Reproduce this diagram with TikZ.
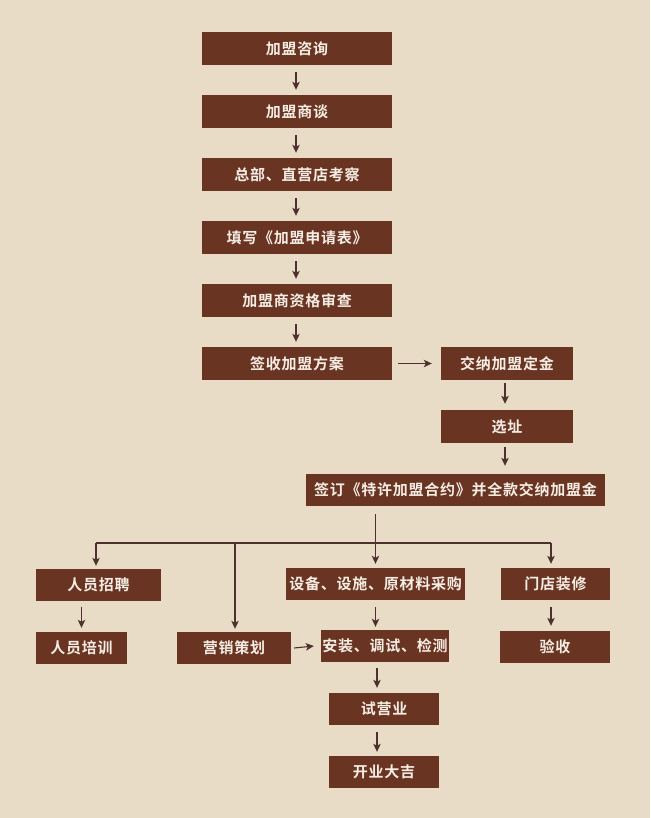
\documentclass[tikz,border=0pt]{standalone}
\usepackage{fontspec}
\setmainfont{Noto Sans CJK SC}[LetterSpace=5, BoldFont={Noto Sans CJK SC Bold}]
\usetikzlibrary{arrows.meta}
\definecolor{bg}{RGB}{233,220,199}
\definecolor{boxc}{RGB}{106,52,35}
\definecolor{txt}{RGB}{246,238,228}
\definecolor{arr}{RGB}{78,48,46}
\tikzset{
  stepbox/.style={fill=boxc, text=txt, inner sep=0pt, minimum height=33, font=\fontsize{15}{17}\selectfont\bfseries},
  conn/.style={draw=arr, line width=1.1pt, -{Stealth[length=8pt,width=7.5pt,inset=2pt]}},
  plain/.style={draw=arr, line width=1.4pt}
}
\begin{document}
\begin{tikzpicture}[x=1pt,y=-1pt]
\fill[bg] (0,0) rectangle (650,818);
\useasboundingbox (0,0) rectangle (650,818);
% main chain
\node[stepbox, minimum width=190] (a) at (297,48.5) {加盟咨询};
\node[stepbox, minimum width=190] (b) at (297,111.5) {加盟商谈};
\node[stepbox, minimum width=190] (c) at (297,174.5) {总部、直营店考察};
\node[stepbox, minimum width=190] (d) at (297,237.5) {填写《加盟申请表》};
\node[stepbox, minimum width=190] (e) at (297,300.5) {加盟商资格审查};
\node[stepbox, minimum width=190] (f) at (297,363.5) {签收加盟方案};
\node[stepbox, minimum width=132] (g) at (507,363.5) {交纳加盟定金};
\node[stepbox, minimum width=132] (h) at (507,426.5) {选址};
\node[stepbox, minimum width=299, minimum height=32] (s) at (455.5,490) {签订《特许加盟合约》并全款交纳加盟金};
% branches
\node[stepbox, minimum width=125, minimum height=32] (r1) at (98.5,585) {人员招聘};
\node[stepbox, minimum width=91, minimum height=32] (r2) at (81.5,648) {人员培训};
\node[stepbox, minimum width=114, minimum height=32] (m) at (234,648) {营销策划};
\node[stepbox, minimum width=179, minimum height=32] (p1) at (375.5,584) {设备、设施、原材料采购};
\node[stepbox, minimum width=128, minimum height=32] (p2) at (385,646) {安装、调试、检测};
\node[stepbox, minimum width=109, minimum height=32] (q1) at (555.5,584) {门店装修};
\node[stepbox, minimum width=110, minimum height=32] (q2) at (555,647) {验收};
\node[stepbox, minimum width=110, minimum height=32] (t) at (384,709) {试营业};
\node[stepbox, minimum width=110, minimum height=32] (o) at (384,772) {开业大吉};
% connectors main chain
\foreach \u/\v in {a/b,b/c,c/d,d/e,e/f}{
  \draw[conn] ([xshift=-1,yshift=-7]\u.south) -- ([xshift=-1,yshift=5]\v.north);
}
\draw[conn] ([xshift=6]f.east) -- ([xshift=-9]g.west);
\draw[conn] ([xshift=-2,yshift=-3]g.south) -- ([xshift=-2,yshift=6]h.north);
\coordinate (hx) at ([xshift=-2]h.south);
\draw[conn] ([yshift=-4]hx) -- ([yshift=8]hx |- s.north);
% branch bar
\coordinate (bl) at (96,543);
\coordinate (bm) at (235,543);
\coordinate (br) at (551,543);
\draw[plain] (bl) -- (br);
\draw[conn] ([yshift=-8]s.south -| p1.north) -- ([yshift=4]p1.north);
\draw[conn] (bl) -- ([yshift=3]bl |- r1.north);
\draw[conn] (bm) -- ([yshift=3]bm |- m.north);
\draw[conn] (br) -- ([yshift=4]br |- q1.north);
% lower connectors
\coordinate (rx) at (r2.north);
\draw[conn] ([yshift=-6]rx |- r1.south) -- ([yshift=4]r2.north);
\draw[conn] ([yshift=-7]p1.south) -- ([yshift=3]p1.south |- p2.north);
\coordinate (qx) at (551,0);
\draw[conn] ([yshift=-7]qx |- q1.south) -- ([yshift=5]qx |- q2.north);
\draw[conn] ([xshift=3]m.east) -- ([xshift=-7]p2.west);
\coordinate (tx) at (377,0);
\draw[conn] ([yshift=-6]tx |- p2.south) -- ([yshift=5]tx |- t.north);
\draw[conn] ([yshift=-7]tx |- t.south) -- ([yshift=4]tx |- o.north);
\end{tikzpicture}
\end{document}
